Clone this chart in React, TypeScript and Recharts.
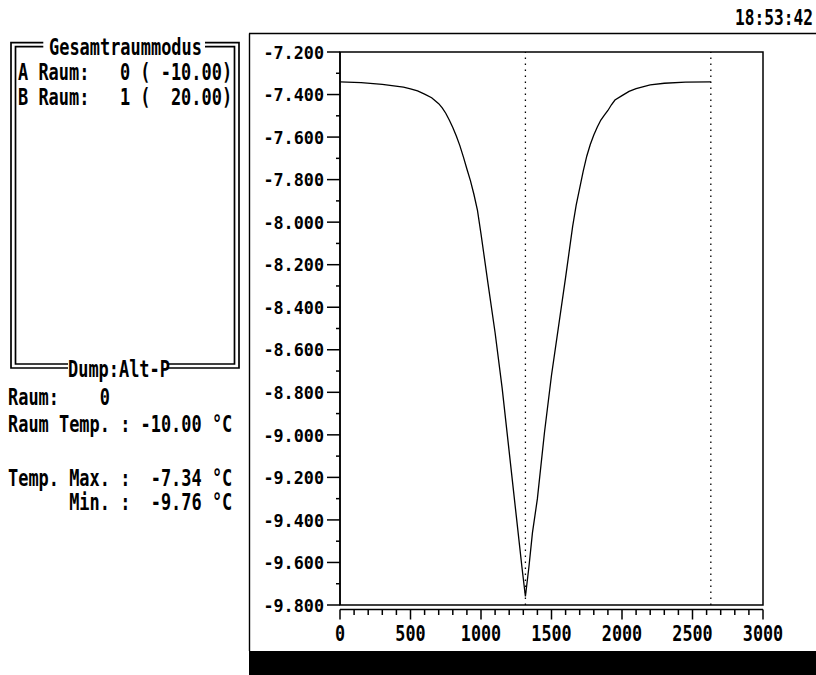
import React from 'react';
import { LineChart, Line, XAxis, YAxis, ReferenceLine, ReferenceArea } from 'recharts';

// ---- data ----
const timeSec = [0, 150, 300, 450, 500, 550, 600, 650, 700, 725, 750, 775, 800, 825, 850, 875, 900, 925, 950, 975, 1000, 1050, 1100, 1150, 1200, 1250, 1290, 1315, 1340, 1365, 1400, 1450, 1500, 1550, 1600, 1650, 1675, 1700, 1725, 1750, 1775, 1800, 1825, 1850, 1875, 1900, 1925, 1950, 2000, 2050, 2100, 2200, 2300, 2450, 2630];
const tempValues = [-7.340, -7.344, -7.352, -7.365, -7.373, -7.383, -7.398, -7.415, -7.443, -7.463, -7.488, -7.520, -7.555, -7.595, -7.640, -7.693, -7.750, -7.805, -7.870, -7.945, -8.055, -8.290, -8.520, -8.780, -9.080, -9.380, -9.620, -9.760, -9.620, -9.460, -9.300, -8.990, -8.720, -8.490, -8.260, -8.020, -7.920, -7.840, -7.760, -7.690, -7.635, -7.590, -7.553, -7.520, -7.497, -7.475, -7.448, -7.426, -7.405, -7.385, -7.372, -7.355, -7.347, -7.342, -7.340];
const markerTimes = [1315, 2630];
const xTicks = [0, 100, 200, 300, 400, 500, 600, 700, 800, 900, 1000, 1100, 1200, 1300, 1400, 1500, 1600, 1700, 1800, 1900, 2000, 2100, 2200, 2300, 2400, 2500, 2600, 2700, 2800, 2900, 3000];
const xLabelTicks = [0, 500, 1000, 1500, 2000, 2500, 3000];
const yTicks = [-7.2, -7.3, -7.4, -7.5, -7.6, -7.7, -7.8, -7.9, -8.0, -8.1, -8.2, -8.3, -8.4, -8.5, -8.6, -8.7, -8.8, -8.9, -9.0, -9.1, -9.2, -9.3, -9.4, -9.5, -9.6, -9.7, -9.8];
const yLabelTicks = [-7.2, -7.4, -7.6, -7.8, -8.0, -8.2, -8.4, -8.6, -8.8, -9.0, -9.2, -9.4, -9.6, -9.8];

const roomNames = ['A', 'B'];
const roomIds = [0, 1];
const roomTemps = [-10.0, 20.0];
const currentRoom = 0;
const currentRoomTemp = -10.0;
const tempMax = -7.34;
const tempMin = -9.76;
const clockText = '18:53:42';

const chartData = timeSec.map((t, i) => ({ t, temp: tempValues[i] }));

const FONT = "'DejaVu Sans Mono', 'Liberation Mono', monospace";

const isLabel = (arr: number[], v: number) => arr.some((a) => Math.abs(a - v) < 1e-6);

const XTick = (props: any) => {
  const { x, y, payload } = props;
  const v = payload.value;
  const major = isLabel(xLabelTicks, v);
  return (
    <g>
      <line x1={x} x2={x} y1={y} y2={y + (major ? 10 : 5.5)} stroke="#000" strokeWidth={1.5} />
      {major && (
        <text
          transform={`translate(${x},${y + 31.5}) scale(0.763,1)`}
          textAnchor="middle"
          fontFamily={FONT}
          fontWeight="bold"
          fontSize={22}
          fill="#000"
        >
          {String(v)}
        </text>
      )}
    </g>
  );
};

const YTick = (props: any) => {
  const { x, y, payload } = props;
  const v = payload.value;
  const major = isLabel(yLabelTicks, v);
  return (
    <g>
      <line x1={x - (major ? 13 : 4)} x2={x} y1={y} y2={y} stroke="#000" strokeWidth={1.5} />
      {major && (
        <text
          transform={`translate(${x - 16},${y + 6.7}) scale(0.917,1)`}
          textAnchor="end"
          fontFamily={FONT}
          fontWeight="bold"
          fontSize={18.3}
          fill="#000"
        >
          {v.toFixed(3)}
        </text>
      )}
    </g>
  );
};

const PanelText = ({ x, y, children, size = 22.5, sx = 0.753 }: any) => (
  <text
    transform={`translate(${x},${y}) scale(${sx},1)`}
    fontFamily={FONT}
    fontWeight="bold"
    fontSize={size}
    fill="#000"
    xmlSpace="preserve"
    style={{ whiteSpace: 'pre' }}
  >
    {children}
  </text>
);

const pad6 = (v: number) => {
  const s = v.toFixed(2);
  return (s.length < 6 ? ' '.repeat(6 - s.length) : '') + s;
};

export default function App() {
  return (
    <div style={{ position: 'absolute', left: 0, top: 0, width: 816, height: 675, background: '#fff' }}>
      <svg width={816} height={675} style={{ position: 'absolute', left: 0, top: 0 }}>
        {/* clock */}
        <PanelText x={735} y={25} size={20.6} sx={0.786}>{clockText}</PanelText>
        {/* frame around chart */}
        <line x1={249} x2={816} y1={33.5} y2={33.5} stroke="#000" strokeWidth={1.6} />
        <line x1={249.5} x2={249.5} y1={33.5} y2={651} stroke="#000" strokeWidth={1.4} />
        <rect x={249} y={651} width={567} height={24} fill="#000" />
        {/* left double box */}
        <path d="M43.3,42.7 H11 V368 H68 M168,368 H239 V42.7 H205" fill="none" stroke="#000" strokeWidth={1.7} />
        <path d="M43.3,46.7 H15.5 V364 H68 M168,364 H234.5 V46.7 H205" fill="none" stroke="#000" strokeWidth={1.7} />
        <PanelText x={49} y={55}>Gesamtraummodus</PanelText>
        {roomNames.map((n, i) => (
          <PanelText key={n} x={18} y={80 + i * 24.5}>
            {`${n} Raum:   ${roomIds[i]} ( ${pad6(roomTemps[i])})`}
          </PanelText>
        ))}
        <PanelText x={68} y={377}>Dump:Alt-P</PanelText>
        <PanelText x={8} y={405}>{`Raum:    ${currentRoom}`}</PanelText>
        <PanelText x={8} y={431.5}>{`Raum Temp. : ${currentRoomTemp.toFixed(2)} °C`}</PanelText>
        <PanelText x={8} y={486}>{`Temp. Max. : ${pad6(tempMax)} °C`}</PanelText>
        <PanelText x={8} y={510}>{`      Min. : ${pad6(tempMin)} °C`}</PanelText>
      </svg>
      <div style={{ position: 'absolute', left: 0, top: 0 }}>
        <LineChart width={816} height={675} data={chartData} margin={{ top: 52, right: 53, bottom: 30, left: 0 }}>
          <XAxis xAxisId="gap" type="number" dataKey="t" domain={[0, 3000]} height={4.5} tick={false} axisLine={false} tickLine={false} />
          <XAxis
            xAxisId="main"
            type="number"
            dataKey="t"
            domain={[0, 3000]}
            ticks={xTicks}
            interval={0}
            height={35.5}
            tickSize={0}
            tickMargin={0}
            tickLine={false}
            axisLine={{ stroke: '#000', strokeWidth: 1.5 }}
            tick={<XTick />}
          />
          <YAxis
            type="number"
            domain={[-9.8, -7.2]}
            ticks={yTicks}
            interval={0}
            width={340}
            tickSize={0}
            tickMargin={0}
            tickLine={false}
            axisLine={{ stroke: '#000', strokeWidth: 1.5 }}
            tick={<YTick />}
            allowDataOverflow
          />
          <ReferenceArea xAxisId="main" x1={0} x2={3000} y1={-9.8} y2={-7.2} fill="none" fillOpacity={0} stroke="#000" strokeWidth={1.5} />
          {markerTimes.map((m) => (
            <ReferenceLine key={m} xAxisId="main" x={m} stroke="#000" strokeWidth={1.3} strokeDasharray="1.5 4.5" />
          ))}
          <Line
            xAxisId="main"
            type="linear"
            dataKey="temp"
            stroke="#000"
            strokeWidth={1.3}
            dot={false}
            isAnimationActive={false}
          />
        </LineChart>
      </div>
    </div>
  );
}
